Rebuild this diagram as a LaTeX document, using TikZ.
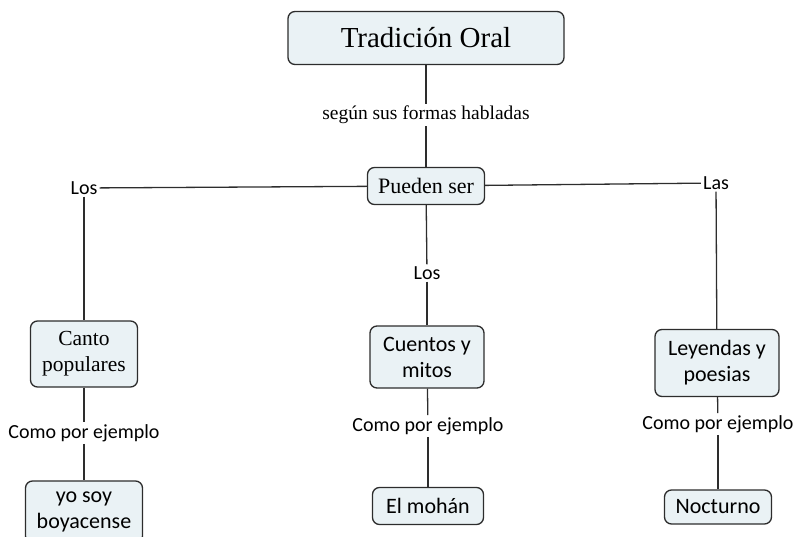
\documentclass[tikz,border=0pt]{standalone}
\usepackage{fontspec}
\setmainfont{Liberation Serif}
\newfontfamily\carlito{Carlito}
\definecolor{boxfill}{RGB}{234,242,245}
\definecolor{boxline}{RGB}{45,45,45}

\begin{document}
\begin{tikzpicture}[x=1pt,y=-1pt,line width=1.3pt,
  concept/.style={draw=boxline,fill=boxfill,rounded corners=7pt,align=center,inner sep=2pt},
  link/.style={font=\carlito\fontsize{20}{24}\selectfont,inner sep=1.5pt},
  serif/.style={font=\fontsize{#1}{26}\selectfont},
  sans/.style={font=\carlito\fontsize{22}{26}\selectfont}]
      \useasboundingbox (0,0) rectangle (795,537);

      \node[concept,serif=29,minimum width=276pt,minimum height=53pt] (oral) at (426,38) {Tradición Oral};
      \node[serif=19.5,inner sep=1.5pt] (segun) at (426,115) {según sus formas habladas};
      \node[concept,serif=22,minimum width=117pt,minimum height=37pt] (pueden) at (426,186) {Pueden ser};

      \node[link] (losL) at (84,188) {Los};
      \node[link] (losM) at (427,273) {Los};
      \node[link] (las) at (716,183) {Las};

      \node[concept,serif=21.5,minimum width=107pt,minimum height=66pt] (canto) at (84,354) {Canto\\populares};
      \node[concept,sans,minimum width=114pt,minimum height=62pt] (cuentos) at (427,357) {Cuentos y\\mitos};
      \node[concept,sans,minimum width=124pt,minimum height=67pt] (leyendas) at (717,363) {Leyendas y\\poesias};

      \node[link] (comoL) at (84,433) {Como por ejemplo};
      \node[link] (comoM) at (428,426) {Como por ejemplo};
      \node[link] (comoR) at (718,424) {Como por ejemplo};

      \node[concept,sans,minimum width=117pt,minimum height=62pt] (boyacense) at (84,512) {yo soy\\boyacense};
      \node[concept,sans,minimum width=111pt,minimum height=37pt] (mohan) at (428,506) {El mohán};
      \node[concept,sans,minimum width=107pt,minimum height=34pt] (nocturno) at (718,507) {Nocturno};

      \path[draw=boxline]
        (oral) edge (segun)
        (segun) edge (pueden)
        (pueden) edge (losL)
        (pueden) edge (losM)
        (pueden) edge (las)
        (losL) edge (canto)
        (losM) edge (cuentos)
        (las) edge (leyendas)
        (canto) edge (comoL)
        (cuentos) edge (comoM)
        (leyendas) edge (comoR)
        (comoL) edge (boyacense)
        (comoM) edge (mohan)
        (comoR) edge (nocturno);

    \end{tikzpicture}
\end{document}
